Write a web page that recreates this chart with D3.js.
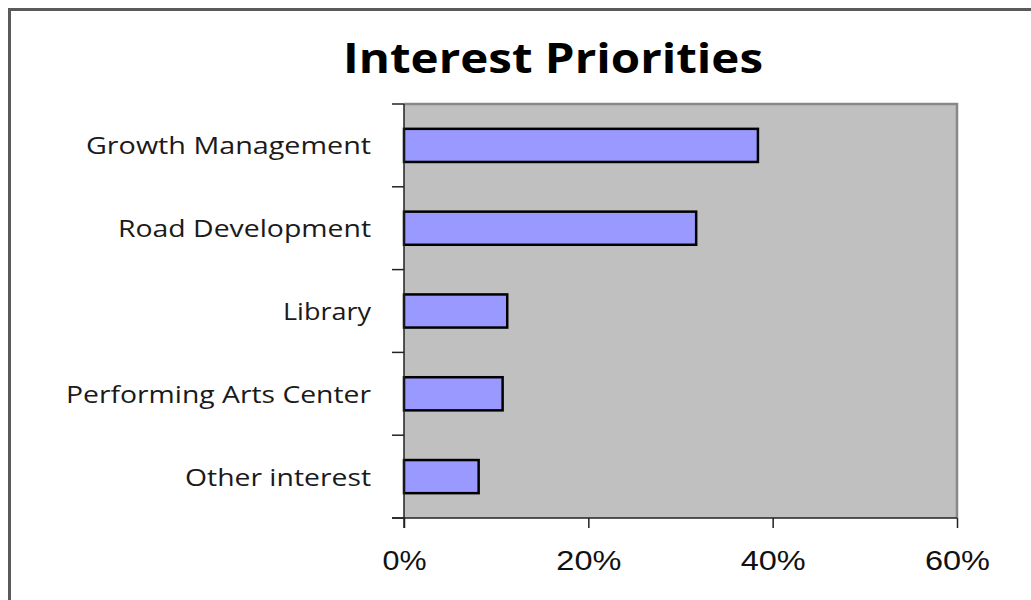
<!DOCTYPE html>
<html>
<head>
<meta charset="utf-8">
<script src="https://cdn.jsdelivr.net/npm/d3@7"></script>
<style>
  html, body { margin: 0; padding: 0; background: #ffffff; }
  svg { display: block; }
</style>
</head>
<body>
<svg id="chart" width="1031" height="600"></svg>
<script>
// Interest priorities: share of respondents per topic
const categories = ["Growth Management", "Road Development", "Library", "Performing Arts Center", "Other interest"];
const values = [0.384, 0.317, 0.112, 0.107, 0.081];
const xTicks = [0, 0.2, 0.4, 0.6];
const titleText = "Interest Priorities";

const svg = d3.select("#chart");
const W = 1031, H = 600;
const plot = { left: 404, right: 957, top: 104, bottom: 518 };

// outer chart frame (runs off the right and bottom edges)
svg.append("rect")
  .attr("x", 9.5).attr("y", 9.5)
  .attr("width", W + 20).attr("height", H + 20)
  .attr("fill", "#ffffff")
  .attr("stroke", "#5a5a5a")
  .attr("stroke-width", 3);

const x = d3.scaleLinear().domain([0, 0.6]).range([plot.left, plot.right]);
const y = d3.scaleBand().domain(categories).range([plot.top, plot.bottom]).paddingInner(0.6).paddingOuter(0.3);
const yOuter = d3.scaleBand().domain(categories).range([plot.top, plot.bottom]);

// plot area background
svg.append("rect")
  .attr("x", plot.left).attr("y", plot.top)
  .attr("width", plot.right - plot.left).attr("height", plot.bottom - plot.top)
  .attr("fill", "#c0c0c0");
// grey frame on top and right
svg.append("path")
  .attr("d", `M${plot.left},${plot.top}H${plot.right}V${plot.bottom}`)
  .attr("fill", "none").attr("stroke", "#888888").attr("stroke-width", 2.5);

// bars
svg.append("g").selectAll("rect")
  .data(values)
  .join("rect")
  .attr("x", x(0))
  .attr("y", (d, i) => y(categories[i]))
  .attr("width", d => x(d) - x(0))
  .attr("height", y.bandwidth())
  .attr("fill", "#9999ff")
  .attr("stroke", "#000000")
  .attr("stroke-width", 2.5);

// category axis: tick marks at band boundaries
const yBounds = categories.map(c => yOuter(c)).concat([plot.bottom]);
const yAxisG = svg.append("g");
yAxisG.append("line")
  .attr("x1", plot.left).attr("x2", plot.left)
  .attr("y1", plot.top).attr("y2", plot.bottom + 10)
  .attr("stroke", "#222").attr("stroke-width", 1.5);
yAxisG.selectAll("line.tick")
  .data(yBounds)
  .join("line").attr("class", "tick")
  .attr("x1", plot.left - 12).attr("x2", plot.left)
  .attr("y1", d => d).attr("y2", d => d)
  .attr("stroke", "#222").attr("stroke-width", 1.5);

const labelWidths = { "Growth Management": 285, "Road Development": 253, "Library": 88, "Performing Arts Center": 305, "Other interest": 186 };
yAxisG.selectAll("text")
  .data(categories)
  .join("text")
  .attr("x", 371)
  .attr("y", d => yOuter(d) + yOuter.bandwidth() / 2 + 1)
  .attr("dy", "0.35em")
  .attr("text-anchor", "end")
  .attr("font-family", "'Open Sans', sans-serif")
  .attr("font-size", 23)
  .attr("fill", "#1a1a1a")
  .attr("textLength", d => labelWidths[d])
  .attr("lengthAdjust", "spacingAndGlyphs")
  .text(d => d);

// value axis
const tickWidths = { "0%": 44, "20%": 65, "40%": 65, "60%": 65 };
const xAxis = d3.axisBottom(x)
  .tickValues(xTicks)
  .tickFormat(d3.format(".0%"))
  .tickSize(10)
  .tickPadding(22);
const xAxisG = svg.append("g")
  .attr("transform", `translate(0,${plot.bottom})`)
  .call(xAxis);
xAxisG.select(".domain")
  .attr("d", `M${plot.left - 12},0H${plot.right}`)
  .attr("stroke", "#222").attr("stroke-width", 1.5);
xAxisG.selectAll(".tick line").attr("stroke", "#222").attr("stroke-width", 1.5);
xAxisG.selectAll(".tick text")
  .attr("font-family", "'Liberation Sans', Arial, sans-serif")
  .attr("font-size", 28)
  .attr("fill", "#111")
  .attr("dy", "0.71em")
  .attr("textLength", function () { return tickWidths[this.textContent]; })
  .attr("lengthAdjust", "spacingAndGlyphs");

// title
svg.append("text")
  .attr("x", 553)
  .attr("y", 73)
  .attr("text-anchor", "middle")
  .attr("font-family", "'Open Sans', sans-serif")
  .attr("font-weight", 700)
  .attr("font-size", 41)
  .attr("fill", "#000")
  .attr("textLength", 420)
  .attr("lengthAdjust", "spacingAndGlyphs")
  .text(titleText);
</script>
</body>
</html>
